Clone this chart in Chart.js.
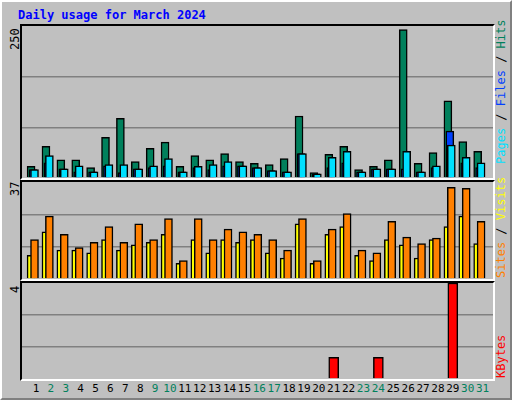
<!DOCTYPE html>
<html>
<head>
<meta charset="utf-8">
<script src="https://cdn.jsdelivr.net/npm/chart.js@4"></script>
<style>
  body { margin: 0; background: #fff; }
  #frame { position: relative; width: 508px; height: 396px; background: #C0C0C0;
    border-top: 2px solid #fff; border-left: 2px solid #fff; border-right: 2px solid #808080; border-bottom: 2px solid #808080;
    font-family: "DejaVu Sans Mono", monospace; }
  .panel { position: absolute; left: 18px; width: 471px; border-top: 2px solid #000; border-left: 2px solid #000;
    border-right: 2px solid #fff; border-bottom: 2px solid #fff; }
  .panel canvas { display: block; }
  .lbl { position: absolute; font-size: 12px; white-space: nowrap; transform-origin: 0 0; }
  .day { position: absolute; top: 380px; font-size: 11px; transform: translateX(-50%); }
</style>
</head>
<body>
<div id="frame">
  <div style="position:absolute;left:16px;top:6px;color:#0000FF;font-weight:bold;font-size:12px;">Daily usage for March 2024</div>
  <div class="panel" style="top:22px;height:152px"><canvas id="c1"></canvas></div>
  <div class="panel" style="top:178px;height:97px"><canvas id="c2"></canvas></div>
  <div class="panel" style="top:279px;height:96px"><canvas id="c3"></canvas></div>
  <div class="lbl" style="left:6px;top:48px;transform:rotate(-90deg)">250</div>
  <div class="lbl" style="left:6px;top:194px;transform:rotate(-90deg)">37</div>
  <div class="lbl" style="left:6px;top:291px;transform:rotate(-90deg)">4</div>
  <div class="lbl" style="left:492px;top:162px;transform:rotate(-90deg)"><span style="color:#00E0FF">Pages</span> / <span style="color:#0040FF">Files</span> / <span style="color:#00805C">Hits</span></div>
  <div class="lbl" style="left:492px;top:276px;transform:rotate(-90deg)"><span style="color:#FF8000">Sites</span> / <span style="color:#FFFF00">Visits</span></div>
  <div class="lbl" style="left:492px;top:376px;transform:rotate(-90deg)"><span style="color:#FF0000">KBytes</span></div>
  <div id="days"></div>
</div>
<script>
const days = [1,2,3,4,5,6,7,8,9,10,11,12,13,14,15,16,17,18,19,20,21,22,23,24,25,26,27,28,29,30,31];
const weekend = [2,3,9,10,16,17,23,24,30,31];
const hits   = [19,52,30,30,17,67,98,27,49,59,19,37,30,40,27,24,22,32,102,9,39,52,14,19,30,244,24,42,127,60,44];
const files  = [14,37,15,20,10,22,22,15,20,32,10,19,22,27,20,17,12,10,40,7,34,44,10,15,15,44,10,20,54,34,25];
const pages  = [14,25,15,10,10,20,9,15,17,20,10,17,14,20,20,17,12,10,40,7,17,25,10,15,15,15,10,17,77,25,17];
const sites  = [9,18,11,11,10,15,11,13,14,17,6,15,10,15,14,15,10,8,21,6,17,20,9,7,15,13,8,15,20,24,13.5];
const visits = [15,24,17,12,14,20,14,21,15,23,7,23,15,19,18,17,15,11,23,7,19,25,11,10,22,16,13.5,15.6,35,34.6,22];
const kbytes = [0,0,0,0,0,0,0,0,0,0,0,0,0,0,0,0,0,0,0,0,0.9,0,0,0.9,0,0,0,0,4,0,0];

function ds(vals, off, color, w) {
  return { data: days.map((d, i) => ({ x: d + off, y: vals[i] })), backgroundColor: color,
    borderColor: '#000', borderWidth: 1.5, borderSkipped: 'bottom', barThickness: w, grouped: false };
}
function opts(max) {
  return {
    animation: false, responsive: false, maintainAspectRatio: false,
    layout: { padding: 0 },
    plugins: { legend: { display: false }, tooltip: { enabled: false } },
    scales: {
      x: { type: 'linear', min: 0.06, max: 31.7, offset: false, display: false },
      y: { min: 0, max: max, afterBuildTicks: a => { a.ticks = [0, max / 3, 2 * max / 3, max].map(v => ({ value: v })); },
        ticks: { display: false }, border: { display: false },
        grid: { drawTicks: false, lineWidth: 1.5, color: c => (c.index === 1 || c.index === 2) ? '#808080' : 'rgba(0,0,0,0)' } }
    }
  };
}
function make(id, h, datasets, max) {
  const cv = document.getElementById(id);
  cv.width = 471; cv.height = h;
  return new Chart(cv, { type: 'bar', data: { datasets }, options: opts(max) });
}
// first dataset is painted on top
make('c1', 152, [ds(files, -0.1, '#00E0FF', 8), ds(pages, -0.2, '#0040FF', 8), ds(hits, -0.33, '#00805C', 8)], 250);
make('c2', 97, [ds(visits, -0.1, '#FF8000', 8), ds(sites, -0.33, '#FFFF00', 8)], 37);
const c3 = make('c3', 96, [ds(kbytes, 0, '#FF0000', 10)], 4);

const box = document.getElementById('days');
days.forEach(d => {
  const s = document.createElement('div');
  s.className = 'day';
  s.style.left = (20 + c3.scales.x.getPixelForValue(d)) + 'px';
  s.style.color = weekend.includes(d) ? '#00805C' : '#000';
  s.textContent = d;
  box.appendChild(s);
});
</script>
</body>
</html>
